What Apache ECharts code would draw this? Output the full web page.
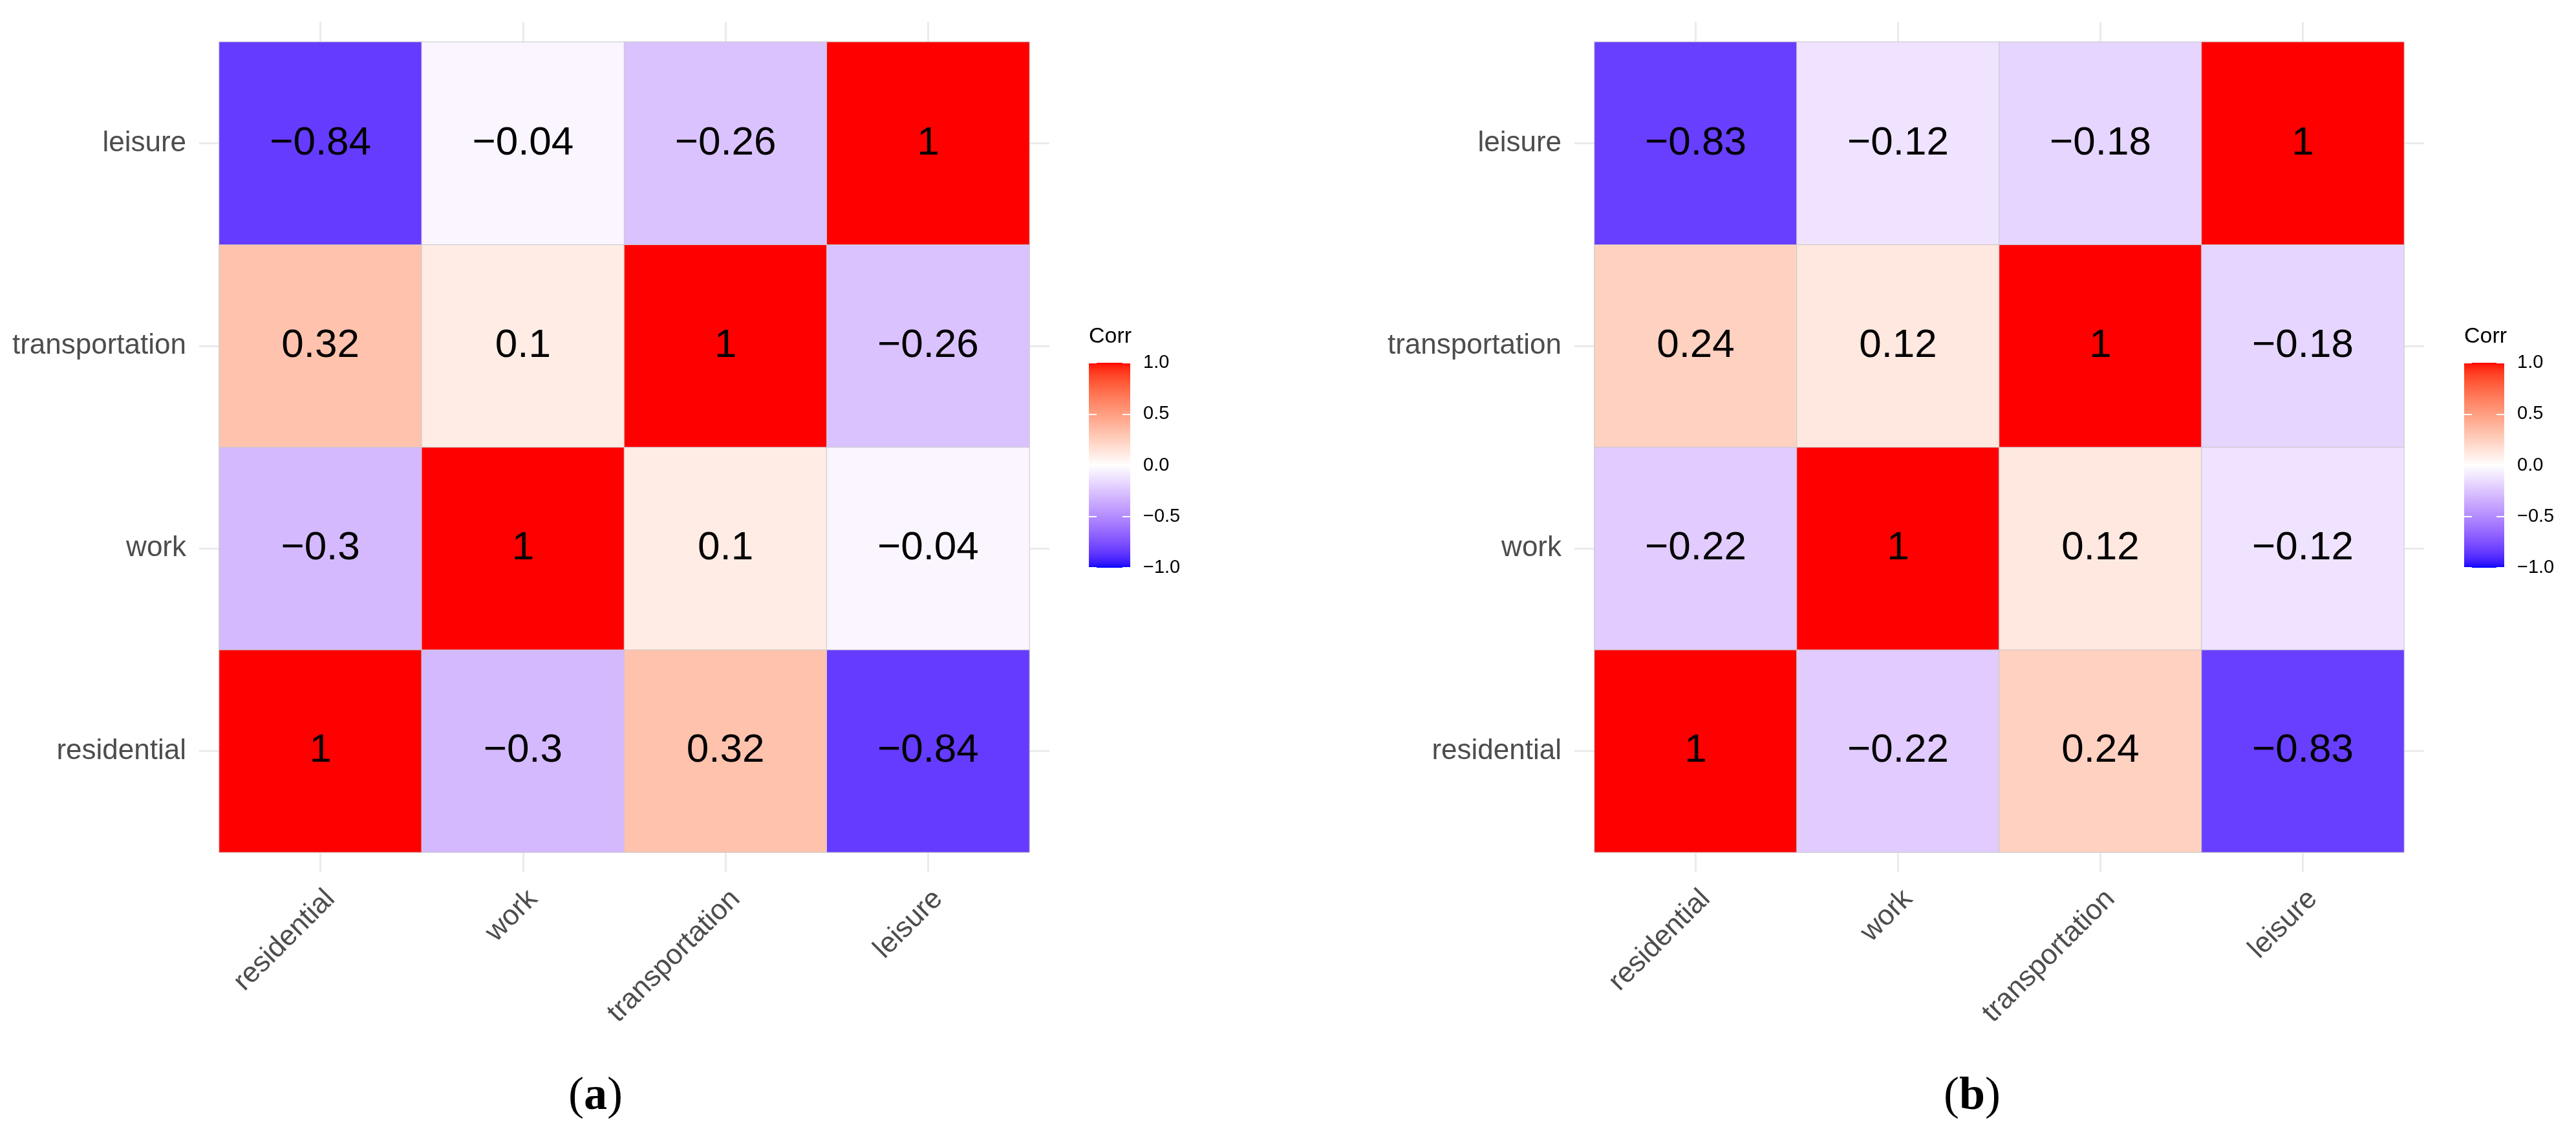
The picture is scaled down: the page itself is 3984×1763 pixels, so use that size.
<!DOCTYPE html>
<html>
<head>
<meta charset="utf-8">
<script src="https://cdn.jsdelivr.net/npm/echarts@6/dist/echarts.min.js"></script>
<style>
  html, body { margin: 0; padding: 0; background: #fff; }
  #main { width: 3984px; height: 1763px; }
</style>
</head>
<body>
<div id="main"></div>
<script>
// variables, bottom-to-top on y and left-to-right on x
const vars = ['residential', 'work', 'transportation', 'leisure'];

// correlation matrices
const corrA = [
  [1, -0.3, 0.32, -0.84],
  [-0.3, 1, 0.1, -0.04],
  [0.32, 0.1, 1, -0.26],
  [-0.84, -0.04, -0.26, 1]
];
const corrB = [
  [1, -0.22, 0.24, -0.83],
  [-0.22, 1, 0.12, -0.12],
  [0.24, 0.12, 1, -0.18],
  [-0.83, -0.12, -0.18, 1]
];

const corrLimits = [-1, 1];
const legendStep = 0.5;
const panelTags = ['a', 'b'];

const FONT = 'Liberation Sans';
const minus = s => String(s).replace('-', '\u2212');

// --- blue / white / red gradient interpolated in CIE Lab (like ggplot's gradient2)
function toLinear(c) { c /= 255; return c <= 0.04045 ? c / 12.92 : Math.pow((c + 0.055) / 1.055, 2.4); }
function fromLinear(c) { c = c <= 0.0031308 ? 12.92 * c : 1.055 * Math.pow(c, 1 / 2.4) - 0.055; return Math.round(Math.min(1, Math.max(0, c)) * 255); }
const WX = 0.95047, WY = 1.0, WZ = 1.08883;
function rgb2lab(rgb) {
  const r = toLinear(rgb[0]), g = toLinear(rgb[1]), b = toLinear(rgb[2]);
  const x = (0.4124564 * r + 0.3575761 * g + 0.1804375 * b) / WX;
  const y = (0.2126729 * r + 0.7151522 * g + 0.0721750 * b) / WY;
  const z = (0.0193339 * r + 0.1191920 * g + 0.9503041 * b) / WZ;
  const f = t => t > 216 / 24389 ? Math.cbrt(t) : (24389 / 27 * t + 16) / 116;
  const fx = f(x), fy = f(y), fz = f(z);
  return [116 * fy - 16, 500 * (fx - fy), 200 * (fy - fz)];
}
function lab2rgb(lab) {
  const fy = (lab[0] + 16) / 116, fx = fy + lab[1] / 500, fz = fy - lab[2] / 200;
  const inv = t => t * t * t > 216 / 24389 ? t * t * t : (116 * t - 16) / (24389 / 27);
  const x = inv(fx) * WX, y = inv(fy) * WY, z = inv(fz) * WZ;
  const r = 3.2404542 * x - 1.5371385 * y - 0.4985314 * z;
  const g = -0.9692660 * x + 1.8760108 * y + 0.0415560 * z;
  const b = 0.0556434 * x - 0.2040259 * y + 1.0572252 * z;
  return 'rgb(' + fromLinear(r) + ',' + fromLinear(g) + ',' + fromLinear(b) + ')';
}
const LOW = rgb2lab([0, 0, 255]), MID = rgb2lab([255, 255, 255]), HIGH = rgb2lab([255, 0, 0]);
function corrColor(v) {
  const end = v < 0 ? LOW : HIGH, t = Math.abs(v);
  return lab2rgb([0, 1, 2].map(k => MID[k] + (end[k] - MID[k]) * t));
}
const NSTOP = 81;
const rampColors = [];
for (let i = 0; i < NSTOP; i++) {
  rampColors.push(corrColor(corrLimits[0] + (corrLimits[1] - corrLimits[0]) * i / (NSTOP - 1)));
}

function cells(m) {
  const out = [];
  for (let i = 0; i < vars.length; i++)
    for (let j = 0; j < vars.length; j++) out.push([i, j, m[i][j]]);
  return out;
}

const chart = echarts.init(document.getElementById('main'), null, { renderer: 'canvas' });

const panels = [
  { grid: { left: 339, top: 65, width: 1253, height: 1253 }, bar: { left: 1684, top: 561, width: 64, height: 317 }, caption: 921 },
  { grid: { left: 2466, top: 65, width: 1252, height: 1253 }, bar: { left: 3811, top: 561, width: 62, height: 317 }, caption: 3050 }
];

const gridTick = { show: true, alignWithLabel: true, interval: 0, length: 31, lineStyle: { color: '#ebebeb', width: 3 } };
const axisText = { fontFamily: FONT, fontSize: 44, color: '#4d4d4d' };

const grids = [], xAxes = [], yAxes = [], series = [], titles = [];
panels.forEach((p, k) => {
  const g = grids.length;
  grids.push(p.grid);
  grids.push(p.bar);
  const xa = xAxes.length, ya = yAxes.length;
  // heatmap axes: bottom / top, left / right (ticks only emulate the panel grid lines)
  xAxes.push({ type: 'category', data: vars, gridIndex: g, position: 'bottom', axisLine: { show: false }, axisTick: gridTick,
    axisLabel: Object.assign({ rotate: 45, interval: 0, margin: 50, align: 'right', verticalAlign: 'top' }, axisText) });
  xAxes.push({ type: 'category', data: vars, gridIndex: g, position: 'top', axisLine: { show: false }, axisTick: gridTick, axisLabel: { show: false } });
  yAxes.push({ type: 'category', data: vars, gridIndex: g, position: 'left', axisLine: { show: false }, axisTick: gridTick,
    axisLabel: Object.assign({ interval: 0, margin: 51 }, axisText) });
  yAxes.push({ type: 'category', data: vars, gridIndex: g, position: 'right', axisLine: { show: false }, axisTick: gridTick, axisLabel: { show: false } });
  // colour bar axes
  const whiteTick = { show: true, inside: true, length: 12, lineStyle: { color: '#fff', width: 2 } };
  xAxes.push({ type: 'category', data: ['Corr'], gridIndex: g + 1, show: false });
  yAxes.push({ type: 'value', gridIndex: g + 1, position: 'right', min: corrLimits[0], max: corrLimits[1], interval: legendStep, z: 5,
    axisLine: { show: false }, splitLine: { show: false }, axisTick: whiteTick,
    axisLabel: { margin: 20, fontFamily: FONT, fontSize: 29, color: '#000', formatter: v => minus(v.toFixed(1)) } });
  yAxes.push({ type: 'value', gridIndex: g + 1, position: 'left', min: corrLimits[0], max: corrLimits[1], interval: legendStep, z: 5,
    axisLine: { show: false }, splitLine: { show: false }, axisTick: whiteTick, axisLabel: { show: false } });

  series.push({
    type: 'heatmap', xAxisIndex: xa, yAxisIndex: ya, data: cells(k === 0 ? corrA : corrB),
    itemStyle: { borderColor: '#c8c8c8', borderWidth: 1 },
    label: { show: true, fontFamily: FONT, fontSize: 62, color: '#000', formatter: pr => minus(pr.value[2]) },
    emphasis: { disabled: true }
  });
  const stops = rampColors.map((c, i) => ({ offset: i / (NSTOP - 1), color: rampColors[NSTOP - 1 - i] }));
  series.push({
    type: 'custom', xAxisIndex: xa + 2, yAxisIndex: ya + 2, data: [[0, corrLimits[0], corrLimits[1]]], silent: true,
    renderItem: (params, api) => {
      const top = api.coord([0, api.value(2)]);
      const bot = api.coord([0, api.value(1)]);
      const w = api.size([1, 0])[0];
      return { type: 'rect', shape: { x: top[0] - w / 2, y: top[1], width: w, height: bot[1] - top[1] },
        style: { fill: new echarts.graphic.LinearGradient(0, 0, 0, 1, stops) } };
    }
  });

  titles.push({ text: 'Corr', left: p.bar.left, top: 504, padding: 0,
    textStyle: { fontFamily: FONT, fontSize: 34, fontWeight: 'normal', color: '#000' } });
  titles.push({ text: '{p|(}{b|' + panelTags[k] + '}{p|)}', left: p.caption, textAlign: 'center', top: 1660, padding: 0,
    textStyle: { fontWeight: 'normal', rich: {
      p: { fontFamily: 'Liberation Serif', fontSize: 72, fontWeight: 'normal', color: '#000' },
      b: { fontFamily: 'Liberation Serif', fontSize: 72, fontWeight: 'bold', color: '#000' }
    } } });
});

chart.setOption({
  animation: false,
  backgroundColor: '#fff',
  title: titles,
  grid: grids,
  xAxis: xAxes,
  yAxis: yAxes,
  visualMap: { show: false, type: 'continuous', seriesIndex: [0, 2], min: corrLimits[0], max: corrLimits[1], inRange: { color: rampColors } },
  series: series
});
</script>
</body>
</html>
